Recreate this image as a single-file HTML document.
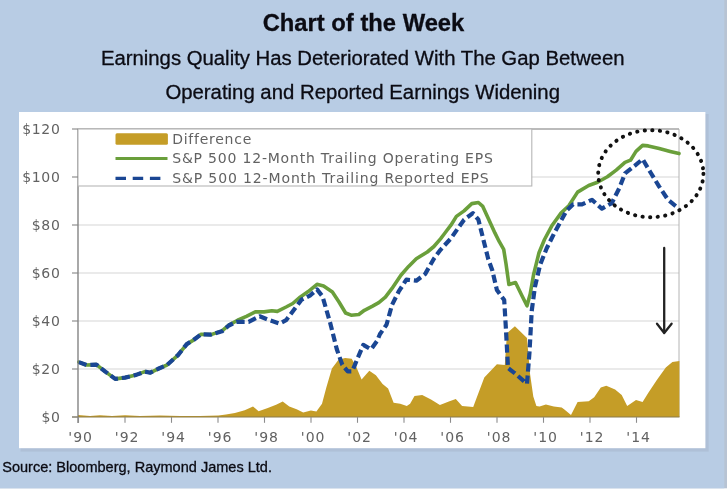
<!DOCTYPE html>
<html><head><meta charset="utf-8"><title>Chart of the Week</title>
<style>
html,body{margin:0;padding:0;background:#fff;}
body{width:728px;height:490px;overflow:hidden;position:relative;}
svg{display:block;position:absolute;left:0;top:0;}
.t{font-family:"Liberation Sans",sans-serif;fill:#0b0b13;stroke:#0b0b13;stroke-width:0.3px;}
.c{font-family:"DejaVu Sans","Liberation Sans",sans-serif;font-size:14px;fill:#626262;font-variant-ligatures:none;}
</style></head><body>
<svg width="728" height="490" viewBox="0 0 728 490">
<rect x="0" y="0" width="728" height="490" fill="#ffffff"/>
<rect x="0" y="0" width="727" height="488.3" fill="#b7c3d3"/>
<rect x="0" y="0" width="724.3" height="488.3" fill="#b8cce4"/>
<rect x="20.5" y="114" width="688.2" height="337.6" fill="#afc0d7"/>
<rect x="19" y="112" width="686.4" height="336.2" fill="#ffffff"/>
<g class="t">
<text x="262.7" y="31" font-size="23.9" font-weight="bold" textLength="201.6" lengthAdjust="spacingAndGlyphs">Chart of the Week</text>
<text x="100.9" y="65.4" font-size="19.6" textLength="523.6" lengthAdjust="spacingAndGlyphs">Earnings Quality Has Deteriorated With The Gap Between</text>
<text x="165.4" y="99.3" font-size="19.6" textLength="394.6" lengthAdjust="spacingAndGlyphs">Operating and Reported Earnings Widening</text>
<text x="2.2" y="471.5" font-size="14.4" textLength="269.8" lengthAdjust="spacingAndGlyphs">Source: Bloomberg, Raymond James Ltd.</text>
</g>
<!-- plot -->
<line x1="78" y1="369" x2="679" y2="369" stroke="#d5d5d5" stroke-width="1"/>
<line x1="78" y1="321" x2="679" y2="321" stroke="#d5d5d5" stroke-width="1"/>
<line x1="78" y1="273" x2="679" y2="273" stroke="#d5d5d5" stroke-width="1"/>
<line x1="78" y1="225" x2="679" y2="225" stroke="#d5d5d5" stroke-width="1"/>
<line x1="78" y1="177" x2="679" y2="177" stroke="#d5d5d5" stroke-width="1"/>
<line x1="78" y1="129" x2="679" y2="129" stroke="#d5d5d5" stroke-width="1"/>

<line x1="679" y1="129" x2="679" y2="417" stroke="#b4b4b4" stroke-width="1"/>
<polygon points="78,417 78,415 90,416 100,415.3 112,416 125,415.3 140,416 160,415.6 180,416 200,416 218.4,415.6 226,414.5 234.9,413 244.7,410.3 253,406.4 258.6,411.3 267.8,408 276.1,404.7 282.7,401.4 289.3,406.4 296.6,409.3 303.2,412.6 310.9,410.4 316.4,411.5 322,403.8 326.4,387.3 331.9,368.6 338.5,359.8 345.1,358 351.7,358.7 356.1,366.4 361.6,379.6 369.3,370.8 375.9,375.2 382.6,384 388.1,388.4 393.6,402.7 400.2,403.8 406.8,406 410.1,403.8 414.5,396.1 422.2,395 431,399.4 439.9,404.9 449.5,401.2 455.8,399 462.1,406 473.2,406.9 484.3,377.5 496.9,364.2 504.8,364.9 507,333.2 514.9,326.3 527,338 530.1,374.3 533.3,396.5 536.4,406 539.6,406.6 545.9,404.4 553.8,406.6 561.7,407.5 564.4,409.4 571,414.9 577.6,402.1 588.7,401.3 594.2,397.3 600.8,387.4 606.3,385.8 615.1,389.6 621.7,395.1 627.2,406.1 636,399.9 642.6,402.1 648.2,392.9 657,379.7 665.8,367.5 672.4,362 679.4,360.9 679.4,417" fill="#c59d27"/>
<polyline points="78.8,362.1 86.5,365 96.4,364.6 105.3,371.6 115.2,378.9 125.1,377.6 136.1,374.9 144.9,371.6 150.4,372.7 158.2,368.8 167,365 178,355.1 186.8,344.1 193.4,340.1 201.1,334.2 211,334.6 222,330.9 228.8,325.1 237.6,320.2 246.4,316.3 255.3,311.9 264.1,311.9 271.8,310.8 277.3,311.4 286.1,307 292.7,303.5 300.4,296.9 308.2,291.6 317,284.3 323.6,285.9 332.4,292 339,302 345.6,313 351.1,315.2 358.8,314.5 364.4,310.3 372.1,306.4 378.8,302.7 385.4,297.2 392,288.4 400.9,275.2 408.6,266.4 416.3,258.7 427.3,252 433.9,246.5 440.5,238.8 444.2,234 450.9,225.2 456.4,216.4 464.1,210.9 471.8,203.6 478.4,202.5 482.8,206.4 488.3,218.6 494.9,232.9 499.3,241.7 503.7,249.4 506,263.7 508.9,284.5 515.5,282.5 522.1,296 527,305.8 530.2,294 533.5,275 539,252.7 544.5,239.5 552.2,225.2 561,213.1 568.8,205.8 577.6,192.1 588.7,185.5 597.5,182.2 607.4,176.7 616.2,170.1 625,162.4 630.5,160.2 636,151.4 642.6,145.4 648.2,145.9 659.2,148.5 670.2,151.4 679,153.6" fill="none" stroke="#6a9f3b" stroke-width="3.6" stroke-linejoin="round" stroke-linecap="round"/>
<polyline points="78.8,362.1 86.5,365 96.4,364.6 105.3,371.6 115.2,378.9 125.1,377.6 136.1,374.9 144.9,371.6 150.4,372.7 158.2,368.8 167,365 178,355.1 186.8,344.1 193.4,340.1 201.1,334.2 211,334.6 222,331.3 228.8,325.5 236.5,321.8 248.6,321.8 259.7,316.3 269.6,320.2 279.5,323.5 286.1,320.2 294.9,308.6 301.5,299.7 310.4,295.3 317,289.4 322.5,296.4 330.2,322.9 336.8,349.3 342.3,364.8 347.8,371.4 352.2,371.4 357.7,358.1 363.3,344.9 371,349.3 377,341 380,334 386.5,324.8 392,304.9 398.6,291.7 406.4,279.6 416.3,280.7 425.1,274.1 433.9,258.7 440.5,249.8 450.9,238.4 458.6,227.4 464.1,219.7 472.9,213.1 478.4,219.7 482.8,237.3 488.3,259.3 492.2,270 496.9,290 504.2,300 505.8,326.9 508,368 514.3,372.8 527,383.8 529.5,352.2 531.7,311.1 534.9,287 540.1,264.8 546.7,248.3 554.4,232.9 561,220.8 566.6,210.5 573.2,204.3 582,204.3 592,199.8 601.9,208.7 611.8,203.1 619.5,187.7 625,173.4 634.9,165.7 642.6,159.1 650.4,172.3 659.2,186.6 668,199.8 679,208.7" fill="none" stroke="#1a4693" stroke-width="4.2" stroke-dasharray="8.2 3.9" stroke-linejoin="round"/>
<line x1="78" y1="129" x2="78" y2="423" stroke="#7a7a7a" stroke-width="1.3"/>
<line x1="72" y1="417" x2="679.5" y2="417" stroke="#8a7a4a" stroke-width="1.2"/>
<line x1="78" y1="129" x2="679" y2="129" stroke="#ababab" stroke-width="1.3"/>
<!-- legend -->
<rect x="78" y="129" width="453.8" height="57" fill="#ffffff" stroke="#b6b6b6" stroke-width="1.1"/>
<rect x="115.5" y="133.2" width="52.4" height="11.5" rx="1.5" fill="#c59d27"/>
<line x1="115.5" y1="158.6" x2="167.5" y2="158.6" stroke="#6a9f3b" stroke-width="3"/>
<line x1="115.5" y1="178.4" x2="161" y2="178.4" stroke="#1a4693" stroke-width="3.2" stroke-dasharray="10.5 6.7"/>
<g class="c">
<text x="172.2" y="144.1" textLength="79.1" lengthAdjust="spacing">Difference</text>
<text x="172.2" y="162.9" textLength="320.7" lengthAdjust="spacing">S&amp;P 500 12-Month Trailing Operating EPS</text>
<text x="172.2" y="182.6" textLength="316.4" lengthAdjust="spacing">S&amp;P 500 12-Month Trailing Reported EPS</text>
<text x="60.6" y="421.9" text-anchor="end" letter-spacing="0.7">$0</text>
<line x1="72" y1="417" x2="78" y2="417" stroke="#858585" stroke-width="1.1"/>
<text x="60.6" y="373.9" text-anchor="end" letter-spacing="0.7">$20</text>
<line x1="72" y1="369" x2="78" y2="369" stroke="#858585" stroke-width="1.1"/>
<text x="60.6" y="325.9" text-anchor="end" letter-spacing="0.7">$40</text>
<line x1="72" y1="321" x2="78" y2="321" stroke="#858585" stroke-width="1.1"/>
<text x="60.6" y="277.9" text-anchor="end" letter-spacing="0.7">$60</text>
<line x1="72" y1="273" x2="78" y2="273" stroke="#858585" stroke-width="1.1"/>
<text x="60.6" y="229.9" text-anchor="end" letter-spacing="0.7">$80</text>
<line x1="72" y1="225" x2="78" y2="225" stroke="#858585" stroke-width="1.1"/>
<text x="60.6" y="181.9" text-anchor="end" letter-spacing="0.7">$100</text>
<line x1="72" y1="177" x2="78" y2="177" stroke="#858585" stroke-width="1.1"/>
<text x="60.6" y="133.9" text-anchor="end" letter-spacing="0.7">$120</text>
<line x1="72" y1="129" x2="78" y2="129" stroke="#858585" stroke-width="1.1"/>

<text x="80.7" y="442.3" text-anchor="middle" letter-spacing="1">'90</text>
<line x1="78.5" y1="417" x2="78.5" y2="422.8" stroke="#8c8c8c" stroke-width="1.1"/>
<text x="127.2" y="442.3" text-anchor="middle" letter-spacing="1">'92</text>
<line x1="125.0" y1="417" x2="125.0" y2="422.8" stroke="#8c8c8c" stroke-width="1.1"/>
<text x="173.7" y="442.3" text-anchor="middle" letter-spacing="1">'94</text>
<line x1="171.5" y1="417" x2="171.5" y2="422.8" stroke="#8c8c8c" stroke-width="1.1"/>
<text x="220.2" y="442.3" text-anchor="middle" letter-spacing="1">'96</text>
<line x1="218.0" y1="417" x2="218.0" y2="422.8" stroke="#8c8c8c" stroke-width="1.1"/>
<text x="266.7" y="442.3" text-anchor="middle" letter-spacing="1">'98</text>
<line x1="264.5" y1="417" x2="264.5" y2="422.8" stroke="#8c8c8c" stroke-width="1.1"/>
<text x="313.2" y="442.3" text-anchor="middle" letter-spacing="1">'00</text>
<line x1="311.0" y1="417" x2="311.0" y2="422.8" stroke="#8c8c8c" stroke-width="1.1"/>
<text x="359.7" y="442.3" text-anchor="middle" letter-spacing="1">'02</text>
<line x1="357.5" y1="417" x2="357.5" y2="422.8" stroke="#8c8c8c" stroke-width="1.1"/>
<text x="406.2" y="442.3" text-anchor="middle" letter-spacing="1">'04</text>
<line x1="404.0" y1="417" x2="404.0" y2="422.8" stroke="#8c8c8c" stroke-width="1.1"/>
<text x="452.7" y="442.3" text-anchor="middle" letter-spacing="1">'06</text>
<line x1="450.5" y1="417" x2="450.5" y2="422.8" stroke="#8c8c8c" stroke-width="1.1"/>
<text x="499.2" y="442.3" text-anchor="middle" letter-spacing="1">'08</text>
<line x1="497.0" y1="417" x2="497.0" y2="422.8" stroke="#8c8c8c" stroke-width="1.1"/>
<text x="545.7" y="442.3" text-anchor="middle" letter-spacing="1">'10</text>
<line x1="543.5" y1="417" x2="543.5" y2="422.8" stroke="#8c8c8c" stroke-width="1.1"/>
<text x="592.2" y="442.3" text-anchor="middle" letter-spacing="1">'12</text>
<line x1="590.0" y1="417" x2="590.0" y2="422.8" stroke="#8c8c8c" stroke-width="1.1"/>
<text x="638.7" y="442.3" text-anchor="middle" letter-spacing="1">'14</text>
<line x1="636.5" y1="417" x2="636.5" y2="422.8" stroke="#8c8c8c" stroke-width="1.1"/>

</g>
<!-- annotations -->
<ellipse cx="650.8" cy="173.7" rx="52.6" ry="43.5" fill="none" stroke="#111" stroke-width="3.9" stroke-dasharray="0.3 7.3" stroke-linecap="round"/>
<g stroke="#222" stroke-width="2.3" fill="none" stroke-linecap="round" stroke-linejoin="round">
<line x1="664.2" y1="248" x2="664.2" y2="332.5"/>
<polyline points="657,323.7 664.2,333 671.6,323.7"/>
</g>
</svg>
</body></html>
